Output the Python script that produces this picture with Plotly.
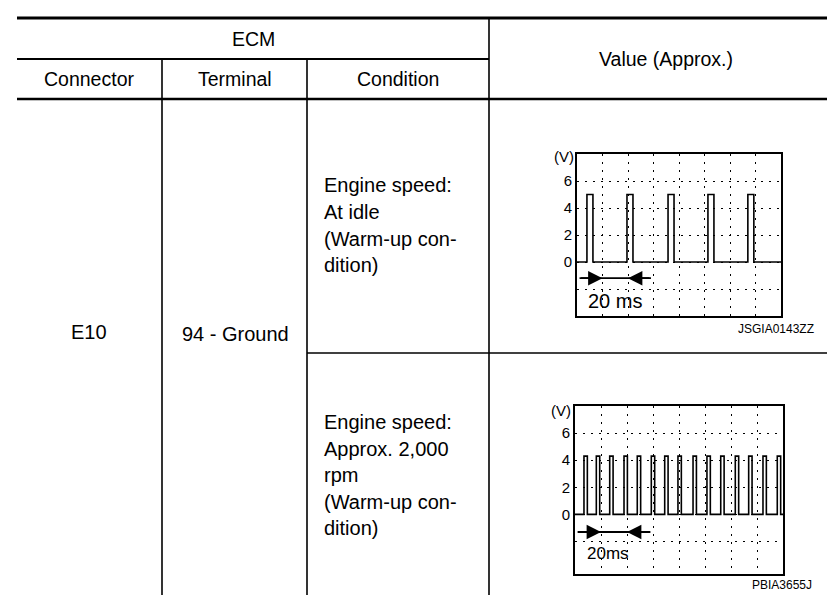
import plotly.graph_objects as go

# ---------------- data ----------------
header_top = "ECM"
header_value = "Value (Approx.)"
sub_headers = ["Connector", "Terminal", "Condition"]
connector = "E10"
terminal = "94 - Ground"
conditions = [
    ["Engine speed:", "At idle", "(Warm-up con-", "dition)"],
    ["Engine speed:", "Approx. 2,000", "rpm", "(Warm-up con-", "dition)"],
]
image_codes = ["JSGIA0143ZZ", "PBIA3655J"]
time_labels = ["20 ms", "20ms"]

# scope traces (time in ms, 20 ms per division, volts)
idle_pulse_start = [7.8, 39.2, 71.4, 102.7, 134.0]
idle_pulse_width = 4.7
idle_pulse_volt = 5.0

rpm_pulse_start = [6.9, 16.4, 26.7, 37.7, 47.9, 58.7, 69.0, 79.2, 90.8,
                   101.5, 112.1, 123.3, 133.6, 144.6, 155.6]
rpm_pulse_width = 2.6
rpm_pulse_volt = 4.3

volt_ticks = [0, 2, 4, 6]
time_grid = [20, 40, 60, 80, 100, 120, 140]
volt_grid = [-2, 0, 2, 4, 6]
time_span = [0, 160]

FONT = "Liberation Sans, Arial, Helvetica, sans-serif"
W, H = 835, 595


def pulse_train(starts, width, volt, span):
    xs, ys = [span[0]], [0]
    for s in starts:
        e = min(s + width, span[1])
        xs += [s, s, e, e]
        ys += [0, volt, volt, 0]
    xs.append(span[1])
    ys.append(0)
    return xs, ys


fig = go.Figure()

fig.add_trace(go.Scatter(x=[0, W], y=[0, H], mode="markers",
                         marker=dict(opacity=0), hoverinfo="skip",
                         xaxis="x", yaxis="y"))

x1, y1 = pulse_train(idle_pulse_start, idle_pulse_width, idle_pulse_volt, time_span)
fig.add_trace(go.Scatter(x=x1, y=y1, mode="lines",
                         line=dict(color="black", width=1.6),
                         xaxis="x2", yaxis="y2", hoverinfo="skip"))
x2, y2 = pulse_train(rpm_pulse_start, rpm_pulse_width, rpm_pulse_volt, time_span)
fig.add_trace(go.Scatter(x=x2, y=y2, mode="lines",
                         line=dict(color="black", width=1.6),
                         xaxis="x3", yaxis="y3", hoverinfo="skip"))

scope1 = dict(l=569, r=773, t=146, b=308, ylo=-4, yhi=8)
scope2 = dict(l=567, r=775, t=398, b=566, ylo=-4.4, yhi=8)


def dom(s):
    return [s["l"] / W, s["r"] / W], [1 - s["b"] / H, 1 - s["t"] / H]


sx1, sy1 = dom(scope1)
sx2, sy2 = dom(scope2)

grid_common = dict(showgrid=True, gridcolor="black", gridwidth=1.4,
                   griddash="2px,6px", zeroline=False, showline=True,
                   mirror=True, linecolor="black", linewidth=1.6,
                   ticks="", fixedrange=True)

layout = dict(
    width=W, height=H,
    margin=dict(l=0, r=0, t=0, b=0),
    paper_bgcolor="white", plot_bgcolor="rgba(0,0,0,0)",
    showlegend=False,
    font=dict(family=FONT, color="black"),
    xaxis=dict(domain=[0, 1], range=[0, W], visible=False, fixedrange=True),
    yaxis=dict(domain=[0, 1], range=[H, 0], visible=False, fixedrange=True),
    xaxis2=dict(domain=sx1, range=time_span, anchor="y2", tickvals=time_grid,
                showticklabels=False, **grid_common),
    yaxis2=dict(domain=sy1, range=[scope1["ylo"], scope1["yhi"]], anchor="x2",
                tickvals=volt_grid, ticktext=[str(v) if v in volt_ticks else "" for v in volt_grid],
                tickfont=dict(size=15, family=FONT), **grid_common),
    xaxis3=dict(domain=sx2, range=time_span, anchor="y3", tickvals=time_grid,
                showticklabels=False, **grid_common),
    yaxis3=dict(domain=sy2, range=[scope2["ylo"], scope2["yhi"]], anchor="x3",
                tickvals=volt_grid, ticktext=[str(v) if v in volt_ticks else "" for v in volt_grid],
                tickfont=dict(size=15, family=FONT), **grid_common),
)
fig.update_layout(**layout)


def hline(y, xa, xb, w):
    fig.add_shape(type="line", xref="x", yref="y", x0=xa, x1=xb, y0=y, y1=y,
                  line=dict(color="black", width=w))


def vline(x, ya, yb, w):
    fig.add_shape(type="line", xref="x", yref="y", x0=x, x1=x, y0=ya, y1=yb,
                  line=dict(color="black", width=w))


hline(10, 9, W, 3.2)
hline(51, 9, 481, 1.8)
hline(91, 9, W, 2.6)
hline(345, 299, W, 1.6)
vline(154, 51, H, 1.6)
vline(299, 51, H, 1.6)
vline(481, 10, H, 1.6)


def txt(x, y, s, size=20, xa="center", ya="middle", ref="x"):
    fig.add_annotation(x=x, y=y, xref=ref, yref="y" if ref == "x" else ref.replace("x", "y"),
                       text=s, showarrow=False, xanchor=xa, yanchor=ya,
                       font=dict(size=size, family=FONT, color="black"))


HEAD = 19.5
BODY = 20
txt(245, 31, header_top, HEAD)
txt(658, 51, header_value, HEAD)
for s, cx in zip(sub_headers, [81, 227, 390]):
    txt(cx, 71, s, HEAD)
txt(81, 324, connector, BODY)
txt(227, 326, terminal, BODY)

for i, line in enumerate(conditions[0]):
    txt(314, 177 + i * 26.8, line, BODY, xa="left")
for i, line in enumerate(conditions[1]):
    txt(314, 414 + i * 26.6, line, BODY, xa="left")

txt(808, 321, image_codes[0], size=12, xa="right")
txt(806, 577, image_codes[1], size=12, xa="right")

txt(556, 148, "(V)", size=15, xa="center")
txt(553, 402, "(V)", size=15, xa="center")

for xr, yr, arrow_y, lbl_y, lbl_x, lbl, lsize in [
    ("x2", "y2", -1.2, -2.9, 30, time_labels[0], 20),
    ("x3", "y3", -1.3, -2.9, 25, time_labels[1], 17),
]:
    fig.add_shape(type="line", xref=xr, yref=yr, x0=2, x1=58, y0=arrow_y, y1=arrow_y,
                  line=dict(color="black", width=1.8))
    fig.add_annotation(x=20, y=arrow_y, ax=2, ay=arrow_y, xref=xr, yref=yr,
                       axref=xr, ayref=yr, text="", showarrow=True,
                       arrowhead=2, arrowsize=1.6, arrowwidth=1.8, arrowcolor="black")
    fig.add_annotation(x=40, y=arrow_y, ax=58, ay=arrow_y, xref=xr, yref=yr,
                       axref=xr, ayref=yr, text="", showarrow=True,
                       arrowhead=2, arrowsize=1.6, arrowwidth=1.8, arrowcolor="black")
    fig.add_annotation(x=lbl_x, y=lbl_y, xref=xr, yref=yr, text=lbl, showarrow=False,
                       font=dict(size=lsize, family=FONT, color="black"),
                       xanchor="center", yanchor="middle")

fig.write_html("out.html")
